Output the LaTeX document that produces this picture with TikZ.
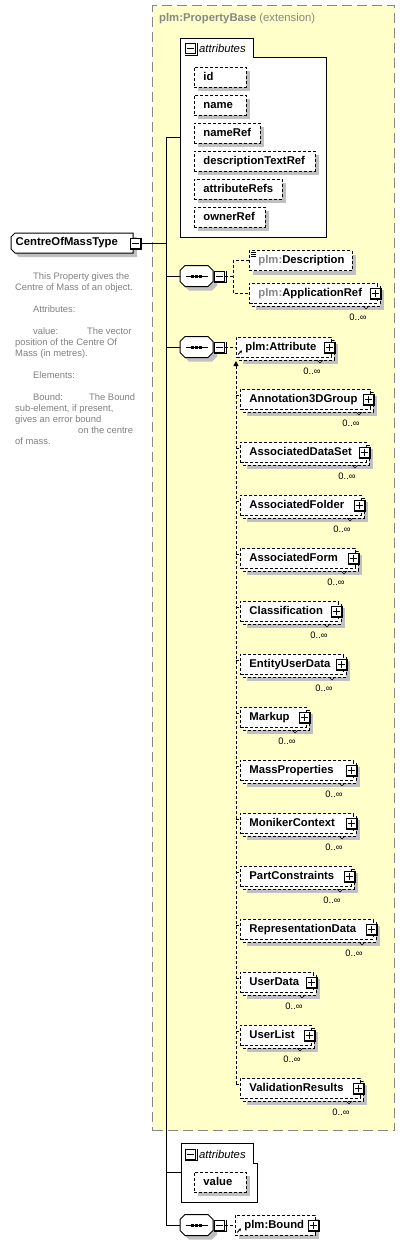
\documentclass[tikz,border=0pt]{standalone}
\usepackage{fontspec}
\setmainfont{Liberation Sans}
\usetikzlibrary{arrows.meta}
\definecolor{ybg}{RGB}{255,255,202}
\definecolor{gborder}{RGB}{135,135,135}
\definecolor{shad}{RGB}{192,192,192}
\definecolor{doctext}{RGB}{128,128,128}
\newcommand\efont{\fontsize{11.3}{13}\selectfont\bfseries}
\newcommand\tfont{\fontsize{11.3}{13}\selectfont}
\newcommand\dfont{\fontsize{9.4}{11}\selectfont}
\tikzset{
  dsh/.style={dash pattern=on 3pt off 2pt},
  ebox/.style={draw=black, dsh, fill=white, line width=0.9pt, minimum height=20pt,
    inner xsep=9pt, inner ysep=0pt, anchor=west, font=\efont, text height=8.5pt, text depth=2.5pt},
  pmbox/.style={draw=black, fill=white, line width=1pt, minimum size=10pt, inner sep=0pt, solid},
  conn/.style={line width=1pt, black},
  dconn/.style={line width=1pt, black, dsh},
  mult/.style={font=\dfont, inner sep=0pt},
  reficon/.style={line width=0.9pt, solid, -{Stealth[length=2.5pt,width=3pt]}},
}
\newcommand\xsPlus[3]{%
  \node[pmbox] (#1) at (#2,#3) {};
  \draw[line width=1pt] ([xshift=1pt]#1.north east) -- ([xshift=1pt,yshift=-1pt]#1.south east) -- ([yshift=-1pt]#1.south west);
  \draw[line width=1pt] ([xshift=2pt]#1.west) -- ([xshift=-2pt]#1.east);
  \draw[line width=1pt] ([yshift=-2pt]#1.north) -- ([yshift=2pt]#1.south);
}
\newcommand\xsMinus[3]{%
  \node[pmbox] (#1) at (#2,#3) {};
  \draw[line width=1pt] ([xshift=1pt]#1.north east) -- ([xshift=1pt,yshift=-1pt]#1.south east) -- ([yshift=-1pt]#1.south west);
  \draw[line width=1pt] ([xshift=2pt]#1.west) -- ([xshift=-2pt]#1.east);
}
% multi-occurrence element: name, left, right, yc, text
\newcommand\xsMulti[5]{%
  \fill[shad] (#2+7,#4-3) rectangle (#3+7,#4+17);
  \draw[line width=0.9pt,dsh,fill=white] (#2+3,#4-7) rectangle (#3+3,#4+13);
  \draw[line width=0.6pt] (#3-14,#4+13) -- (#3-11,#4+16) -- (#3-8,#4+13);
  \node[ebox] (#1) at (#2,#4) {\makebox[\dimexpr #3pt-#2pt-18pt\relax][l]{#5}};
  \xsPlus{#1p}{#3-2}{#4}
  \node[mult] (#1n) at (#3-19,#4+24) {0..∞};
}
% single element / attribute: name, left, right, yc, text
\newcommand\xsSingle[5]{%
  \fill[shad] (#2+4,#4-6) rectangle (#3+4,#4+14);
  \node[ebox] (#1) at (#2,#4) {\makebox[\dimexpr #3pt-#2pt-18pt\relax][l]{#5}};
}
% sequence compositor: name, cx, cy
\newcommand\xsSeq[3]{%
  \fill[shad] (#2-11.5+4,#3-10.5+4) -- (#2+11.5+4,#3-10.5+4) -- (#2+16.5+4,#3-5.5+4) -- (#2+16.5+4,#3+5.5+4)
    -- (#2+11.5+4,#3+10.5+4) -- (#2-11.5+4,#3+10.5+4) -- (#2-16.5+4,#3+5.5+4) -- (#2-16.5+4,#3-5.5+4) -- cycle;
  \node[minimum width=33pt, minimum height=21pt, inner sep=0pt] (#1) at (#2,#3) {};
  \draw[line width=1pt, fill=white] (#2-11.5,#3-10.5) -- (#2+11.5,#3-10.5) -- (#2+16.5,#3-5.5) -- (#2+16.5,#3+5.5)
    -- (#2+11.5,#3+10.5) -- (#2-11.5,#3+10.5) -- (#2-16.5,#3+5.5) -- (#2-16.5,#3-5.5) -- cycle;
  \draw[line width=1pt] (#2-11,#3) -- (#2+11,#3);
  \fill (#2-5.5,#3-1.5) rectangle ++(3,3);
  \fill (#2-1.5,#3-1.5) rectangle ++(3,3);
  \fill (#2+2.5,#3-1.5) rectangle ++(3,3);
  \xsMinus{#1m}{#2+23}{#3}
}
\begin{document}
\begin{tikzpicture}[x=1pt,y=-1pt]
\useasboundingbox (0,0) rectangle (405,1245);
% extension box
\node[draw=gborder, line width=1.2pt, dash pattern=on 10pt off 5pt, fill=ybg, minimum width=242pt,
  minimum height=1125pt, anchor=north west, inner sep=0pt] (ext) at (152,5) {};
\node[anchor=west, inner sep=0pt, text=gborder] (extt) at (159,19) {{\efont plm:PropertyBase} {\tfont(extension)}};
% trunk
\coordinate (trTop) at (166,137.5);
\coordinate (trBot) at (166,1225);
\draw[conn] (trTop) -- (trBot);
% root type
\fill[shad] (19,237) -- (137,237) -- (137,257) -- (19,257) -- (15,253) -- (15,241) -- cycle;
\node[minimum width=122pt, minimum height=20pt, inner sep=0pt, anchor=north west] (cmt) at (11,233) {};
\draw[line width=1pt, fill=white] (15,233) -- (133,233) -- (133,253) -- (15,253) -- (11,249) -- (11,237) -- cycle;
\node[anchor=west, inner sep=0pt, font=\efont] (cmtt) at (15.5,243) {CentreOfMassType};
\xsMinus{cmtm}{135}{243}
\draw[conn] (cmtm.east) -- (cmtm.east -| trTop);
% documentation
\node[anchor=north west, inner sep=0pt, align=left, font=\dfont, text=doctext] (doc) at (15,271)
 {\rule{0pt}{8pt}\hspace*{18pt}This Property gives the\\
  Centre of Mass of an object.\\
  \mbox{}\\
  \hspace*{18pt}Attributes:\\
  \mbox{}\\
  \hspace*{18pt}\makebox[54pt][l]{value:}The vector\\
  position of the Centre Of\\
  Mass (in metres).\\
  \mbox{}\\
  \hspace*{18pt}Elements:\\
  \mbox{}\\
  \hspace*{18pt}\makebox[56pt][l]{Bound:}The Bound\\
  sub-element, if present,\\
  gives an error bound\\
  \hspace*{63pt}on the centre\\
  of mass.};
% attributes group 1
\node[minimum width=146pt, minimum height=199pt, inner sep=0pt, anchor=north west] (attrs1) at (180,38) {};
\draw[line width=1pt, fill=white] (180,38) -- (253,38) -- (253,57) -- (326,57) -- (326,237) -- (180,237) -- cycle;
\xsMinus{attrs1m}{190.5}{48.5}
\node[anchor=west, inner sep=0pt, font=\tfont\itshape] (attrs1t) at (199,48) {attributes};
\draw[conn] (attrs1.west -| trTop) -- (attrs1.west);
\xsSingle{aid}{194}{246}{77}{id}
\xsSingle{aname}{194}{246}{105}{name}
\xsSingle{anameref}{194}{260}{133}{nameRef}
\xsSingle{adesc}{194}{315}{161}{descriptionTextRef}
\xsSingle{aattrrefs}{194}{282}{189}{attributeRefs}
\xsSingle{aowner}{194}{265}{217}{ownerRef}
% sequence 1
\xsSeq{seq1}{196.5}{276}
\draw[conn] (seq1.west -| trTop) -- (seq1.west);
\xsSingle{desc}{249}{352}{260.5}{\textcolor{gborder}{plm:}Description}
\draw[line width=0.6pt] (251,252.5) -- (256,252.5) (251,254.5) -- (256,254.5) (251,256.5) -- (256,256.5);
\xsMulti{appref}{249}{377}{293}{\textcolor{gborder}{plm:}ApplicationRef}
\coordinate (s1j) at (233,276);
\draw[dconn] (seq1m.east) -- (s1j);
\draw[dconn] (desc.west) -| (s1j) |- (appref.west);
% sequence 2
\xsSeq{seq2}{196.5}{347}
\draw[conn] (seq2.west -| trTop) -- (seq2.west);
\xsMulti{attr}{236}{331}{347}{plm:Attribute}
\draw[reficon] ([xshift=2pt,yshift=3pt]attr.south west) -- ++(4,-4);
\draw[dconn] (seq2m.east) -- (attr.west);
\coordinate (subTop) at (236,361);
\xsMulti{Annotation3DGroup}{240}{370}{399}{Annotation3DGroup}
\xsMulti{AssociatedDataSet}{240}{366}{452}{AssociatedDataSet}
\xsMulti{AssociatedFolder}{240}{361}{505}{AssociatedFolder}
\xsMulti{AssociatedForm}{240}{355}{558}{AssociatedForm}
\xsMulti{Classification}{240}{338}{611}{Classification}
\xsMulti{EntityUserData}{240}{343}{664}{EntityUserData}
\xsMulti{Markup}{240}{306}{717}{Markup}
\xsMulti{MassProperties}{240}{353}{770}{MassProperties}
\xsMulti{MonikerContext}{240}{353}{823}{MonikerContext}
\xsMulti{PartConstraints}{240}{351}{876}{PartConstraints}
\xsMulti{RepresentationData}{240}{373}{929}{RepresentationData}
\xsMulti{UserData}{240}{313}{982}{UserData}
\xsMulti{UserList}{240}{311}{1035}{UserList}
\xsMulti{ValidationResults}{240}{360}{1088}{ValidationResults}
\draw[dconn, -{Triangle[length=5pt,width=5pt]}] ([yshift=4pt]ValidationResults.west -| subTop) -- (subTop);
\foreach \n in {Annotation3DGroup,AssociatedDataSet,AssociatedFolder,AssociatedForm,Classification,EntityUserData,Markup,MassProperties,MonikerContext,PartConstraints,RepresentationData,UserData,UserList,ValidationResults}
  \draw[dconn] ([yshift=4pt]\n.west -| subTop) -- ([yshift=4pt]\n.west);
% attributes group 2
\node[minimum width=76pt, minimum height=59pt, inner sep=0pt, anchor=north west] (attrs2) at (181,1143) {};
\draw[line width=1pt, fill=white] (181,1143) -- (253,1143) -- (253,1163) -- (257,1163) -- (257,1202) -- (181,1202) -- cycle;
\xsMinus{attrs2m}{190.5}{1154}
\node[anchor=west, inner sep=0pt, font=\tfont\itshape] (attrs2t) at (199,1154) {attributes};
\draw[conn] (attrs2.west -| trTop) -- (attrs2.west);
\xsSingle{avalue}{194}{246}{1182}{value}
% sequence 3
\xsSeq{seq3}{196.5}{1225}
\draw[conn] (trBot) -- (seq3.west);
\xsSingle{bound}{235}{315}{1225}{plm:Bound}
\xsPlus{boundp}{313}{1225}
\draw[reficon] ([xshift=2pt,yshift=3pt]bound.south west) -- ++(4,-4);
\draw[dconn] (seq3m.east) -- (bound.west);
\end{tikzpicture}
\end{document}
